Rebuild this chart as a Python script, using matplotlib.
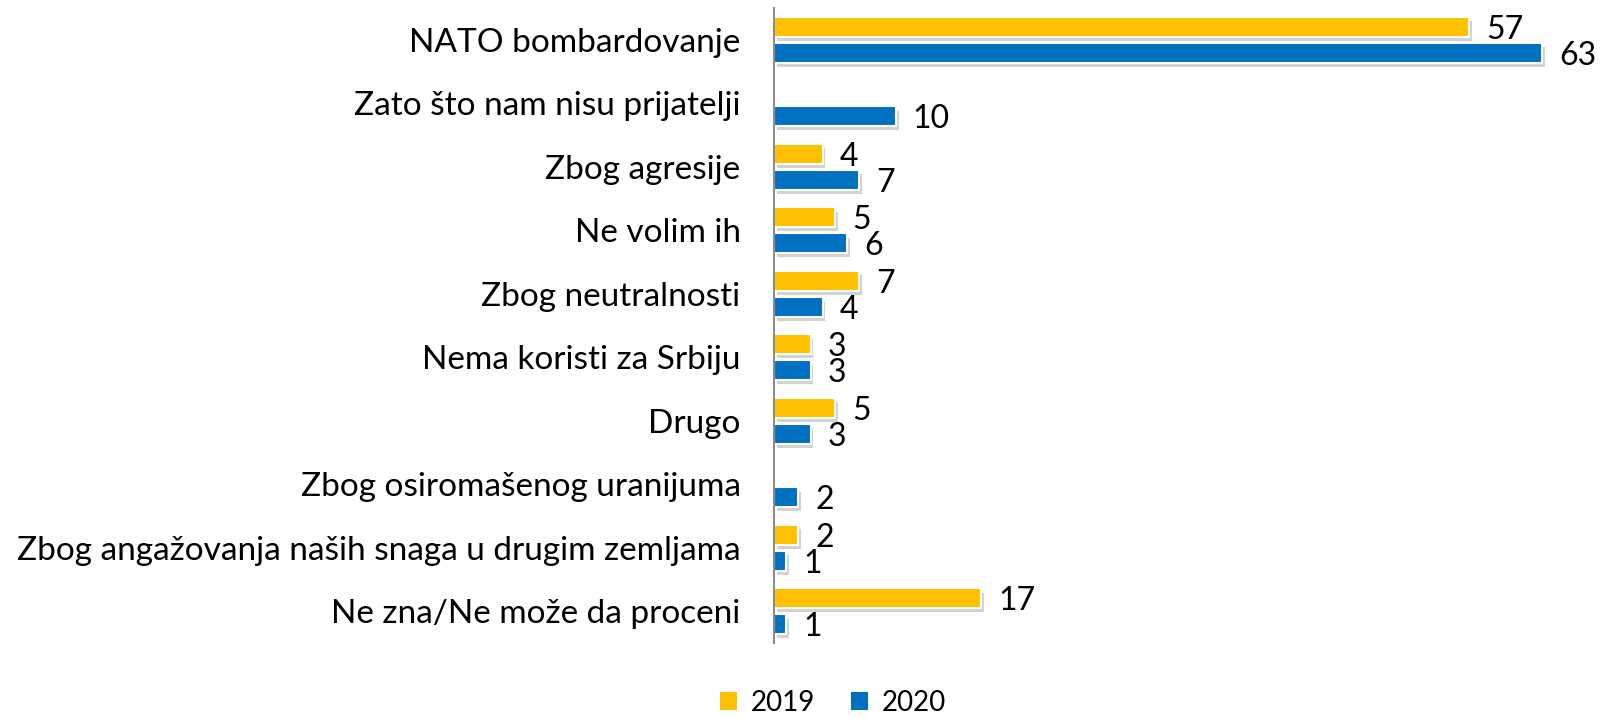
import numpy as np
import matplotlib
matplotlib.use("Agg")
from matplotlib import pyplot as plt
from matplotlib import patheffects as pe
from matplotlib.patches import Patch

plt.rcParams['font.family'] = ['Lato', 'DejaVu Sans']

categories = ["NATO bombardovanje", "Zato što nam nisu prijatelji", "Zbog agresije",
              "Ne volim ih", "Zbog neutralnosti", "Nema koristi za Srbiju", "Drugo",
              "Zbog osiromašenog uranijuma",
              "Zbog angažovanja naših snaga u drugim zemljama",
              "Ne zna/Ne može da proceni"]
vals_2019 = [57, None, 4, 5, 7, 3, 5, None, 2, 17]
vals_2020 = [63, 10, 7, 6, 4, 3, 3, 2, 1, 1]
series = [("2019", vals_2019, "#FFC000"), ("2020", vals_2020, "#0070C0")]

fig = plt.figure(figsize=(16.02, 7.17), dpi=100)
ax = fig.add_axes([0.4831, 0.1032, 0.51, 0.8856])

y = np.arange(len(categories))
h = 0.31
offs = [-0.205, 0.205]
shadow = [pe.SimplePatchShadow(offset=(2, -3), shadow_rgbFace='#808080', alpha=0.35), pe.Normal()]

for (name, vals, col), off in zip(series, offs):
    v = np.array([np.nan if x is None else x for x in vals], dtype=float)
    bars = ax.barh(y + off, np.nan_to_num(v), height=h, color=col, edgecolor='white',
                   linewidth=1.5)
    for b, val in zip(bars, v):
        if np.isnan(val):
            b.set_visible(False)
            continue
        b.set_path_effects(shadow)
        ax.annotate(f"{val:.0f}", (val, b.get_y() + b.get_height() / 2),
                    xytext=(17, -3), textcoords='offset pixels',
                    ha='left', va='center', fontsize=23, color='black')

ax.set_xlim(0, 67)
ax.set_ylim(len(categories) - 0.5, -0.5)
ax.set_yticks(y)
ax.set_yticklabels(categories, fontsize=24)
ax.tick_params(axis='y', length=0, pad=24)
ax.set_xticks([])
for s in ['top', 'right', 'bottom']:
    ax.spines[s].set_visible(False)
ax.spines['left'].set_color('#8c8c8c')
ax.spines['left'].set_linewidth(1.5)

handles = [Patch(facecolor=col, label=name) for name, _, col in series]
fig.legend(handles=handles, loc='center', bbox_to_anchor=(0.52, 0.02), ncol=2, frameon=False,
           fontsize=20, handlelength=0.6, handleheight=0.6, handletextpad=0.5,
           columnspacing=1.3)

fig.savefig("out.png", dpi=100)
